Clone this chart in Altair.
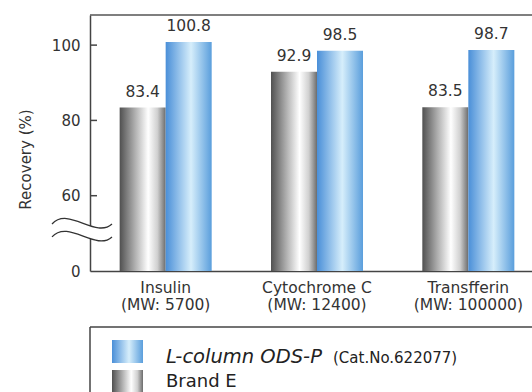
import altair as alt
import pandas as pd

# ---------------- data ----------------
categories = ["Insulin", "Cytochrome C", "Transfferin"]
mw_labels = ["(MW: 5700)", "(MW: 12400)", "(MW: 100000)"]
series_names = ["L-column ODS-P", "Brand E"]
cat_no = "(Cat.No.622077)"
lcolumn = [100.8, 98.5, 98.7]
brand_e = [83.4, 92.9, 83.5]
y_ticks = [40, 60, 80, 100]   # 40 is shown as "0" (broken axis)
inner_ticks = [60, 80, 100]

FONT = "DejaVu Sans"
TXT = "#333333"

labels = [f"{c}\n{m}" for c, m in zip(categories, mw_labels)]
rows = []
for lab, a, b in zip(labels, brand_e, lcolumn):
    rows.append({"label": lab, "series": series_names[1], "value": a})
    rows.append({"label": lab, "series": series_names[0], "value": b})
df = pd.DataFrame(rows)
one = pd.DataFrame({"k": [0]})

gray_grad = alt.Gradient(
    gradient="linear", x1=0, y1=0, x2=1, y2=0,
    stops=[
        alt.GradientStop(offset=0, color="#505050"),
        alt.GradientStop(offset=0.35, color="#b4b4b4"),
        alt.GradientStop(offset=0.62, color="#ffffff"),
        alt.GradientStop(offset=0.82, color="#d0d0d0"),
        alt.GradientStop(offset=1, color="#6c6c6c"),
    ],
)
blue_grad = alt.Gradient(
    gradient="linear", x1=0, y1=0, x2=1, y2=0,
    stops=[
        alt.GradientStop(offset=0, color="#4a8fd8"),
        alt.GradientStop(offset=0.55, color="#d6eefb"),
        alt.GradientStop(offset=1, color="#5a9edc"),
    ],
)

x_enc = alt.X(
    "label:N", sort=labels,
    scale=alt.Scale(range=[0, 454], paddingInner=0.392, paddingOuter=0.196),
    axis=alt.Axis(
        title=None, labelExpr="split(datum.label, '\\n')", ticks=False,
        domainColor="#444444", domainWidth=1.5, labelFont=FONT, labelFontSize=15.5,
        labelColor=TXT, labelPadding=9, labelLineHeight=17, labelAngle=0,
    ),
)
xo_enc = alt.XOffset(
    "series:N",
    scale=alt.Scale(domain=[series_names[1], series_names[0]], paddingInner=0, paddingOuter=0),
)
y_enc = alt.Y(
    "value:Q",
    scale=alt.Scale(domain=[40, 108], zero=False, nice=False),
    axis=alt.Axis(
        values=y_ticks, grid=False, ticks=False, labelPadding=10,
        labelExpr="datum.value == 40 ? '0' : datum.label",
        domainColor="#444444", domainWidth=1.5, labelFont=FONT, labelFontSize=15,
        labelColor=TXT, title="Recovery (%)", titleFont=FONT, titleFontSize=15,
        titleFontWeight="normal", titleColor=TXT, titleX=-65, titleY=144,
        titleAlign="center", titleBaseline="middle",
    ),
)

base = alt.Chart(df).encode(x=x_enc, xOffset=xo_enc, y=y_enc)

bars_gray = base.transform_filter(alt.datum.series == series_names[1]).mark_bar(
    fill=gray_grad).encode(y2=alt.datum(40))
bars_blue = base.transform_filter(alt.datum.series == series_names[0]).mark_bar(
    fill=blue_grad).encode(y2=alt.datum(40))
bar_text = base.mark_text(
    dy=-11, baseline="alphabetic", font=FONT, fontSize=15.5, color=TXT
).encode(text=alt.Text("value:Q", format=".1f"))

ticks = alt.Chart(pd.DataFrame({"value": inner_ticks})).mark_rule(
    color="#444444", strokeWidth=1.5
).encode(y=alt.Y("value:Q"), x=alt.value(0), x2=alt.value(7))

top_rule = alt.Chart(one).mark_rule(color="#555555", strokeWidth=1.5).encode(
    x=alt.value(0), x2=alt.value(442), y=alt.value(0))

wave_fill_path = ("M -1 -0.2 C -0.45 -0.8 0.45 0.3 1 -0.2 L 1 0.23 "
                  "C 0.45 0.73 -0.45 -0.37 -1 0.23 Z")
wave_path = ("M -1 -0.2 C -0.45 -0.8 0.45 0.3 1 -0.2 "
             "M -1 0.23 C -0.45 -0.37 0.45 0.73 1 0.23")
wave_fill = alt.Chart(one).mark_point(
    shape=wave_fill_path, size=3600, filled=True, fill="white", strokeWidth=0, opacity=1
).encode(x=alt.value(-8), y=alt.value(215))
wave = alt.Chart(one).mark_point(
    shape=wave_path, size=3600, filled=False, stroke="#333333", strokeWidth=1.3, opacity=1
).encode(x=alt.value(-8), y=alt.value(215))

# legend box
leg_top = alt.Chart(one).mark_rule(color="#444444", strokeWidth=1.5).encode(
    x=alt.value(0), x2=alt.value(442), y=alt.value(312))
leg_left = alt.Chart(one).mark_rule(color="#444444", strokeWidth=1.5).encode(
    x=alt.value(0), y=alt.value(312), y2=alt.value(380))
leg_blue = alt.Chart(one).mark_rect(fill=blue_grad).encode(
    x=alt.value(22), x2=alt.value(53), y=alt.value(325), y2=alt.value(348))
leg_gray = alt.Chart(one).mark_rect(fill=gray_grad).encode(
    x=alt.value(22), x2=alt.value(53), y=alt.value(355), y2=alt.value(378))
leg_t1 = alt.Chart(one).mark_text(
    text=series_names[0], font=FONT, fontSize=19.5, fontStyle="italic", color="#222222",
    align="left", baseline="alphabetic").encode(x=alt.value(76), y=alt.value(347.5))
leg_t1b = alt.Chart(one).mark_text(
    text=cat_no, font=FONT, fontSize=15, color="#222222",
    align="left", baseline="alphabetic").encode(x=alt.value(243), y=alt.value(347.5))
leg_t2 = alt.Chart(one).mark_text(
    text=series_names[1], font=FONT, fontSize=18, color="#222222",
    align="left", baseline="alphabetic").encode(x=alt.value(76), y=alt.value(372))

chart = alt.layer(
    bars_gray, bars_blue, bar_text, ticks, top_rule, wave_fill, wave,
    leg_top, leg_left, leg_blue, leg_gray, leg_t1, leg_t1b, leg_t2,
).properties(
    width=442, height=256,
    autosize=alt.AutoSizeParams(type="none"),
    padding={"left": 90, "top": 15, "right": 0, "bottom": 121},
).configure_view(stroke=None)

chart.save("out.html", embed_options={"renderer": "svg", "actions": False})
